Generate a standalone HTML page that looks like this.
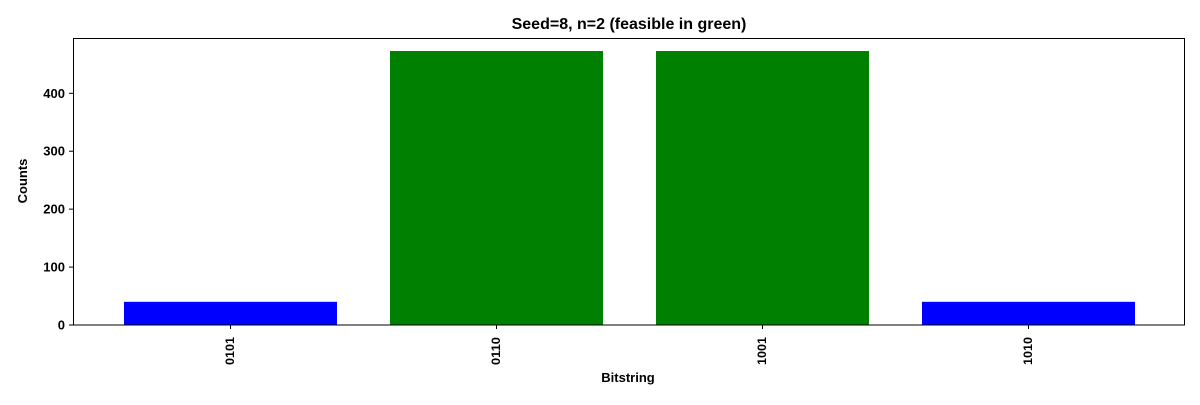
<!DOCTYPE html>
<html><head><meta charset="utf-8"><style>
body{margin:0;background:#fff;}
svg text{font-family:"Liberation Sans","DejaVu Sans",sans-serif;font-weight:bold;}
</style></head><body>
<svg id="chart" width="1200" height="400">
<text x="629" y="29" font-size="16" text-anchor="middle">Seed=8, n=2 (feasible in green)</text>
<text x="628" y="382" font-size="13" text-anchor="middle">Bitstring</text>
<text x="27" y="181" font-size="13" text-anchor="middle" transform="rotate(-90 27 181)">Counts</text>
<g id="bars"></g><g id="yt"></g><g id="xt"></g>
<rect x="73.5" y="38.5" width="1111" height="286.5" fill="none" stroke="#000" stroke-width="1"/>
</svg>
<script>
const categories=["0101","0110","1001","1010"];
const counts=[40,473,473,40];
const colors=["#0000ff","#008000","#008000","#0000ff"];
const yTicks=[0,100,200,300,400];
const NS="http://www.w3.org/2000/svg";
const y0=325,yScale=(325-93.3)/400;
function yPos(v){return y0-v*yScale;}
function xPos(i){return 230.5+i*266;}
const bw=213;
const bars=document.getElementById('bars'),yt=document.getElementById('yt'),xt=document.getElementById('xt');
categories.forEach((c,i)=>{
 const r=document.createElementNS(NS,'rect');
 r.setAttribute('x',xPos(i)-bw/2);r.setAttribute('y',yPos(counts[i]));
 r.setAttribute('width',bw);r.setAttribute('height',y0-yPos(counts[i]));
 r.setAttribute('fill',colors[i]);
 
 
 bars.appendChild(r);
 const l=document.createElementNS(NS,'line');
 l.setAttribute('x1',xPos(i));l.setAttribute('x2',xPos(i));l.setAttribute('y1',325);l.setAttribute('y2',329);l.setAttribute('stroke','#000');
 
 
 xt.appendChild(l);
 const t=document.createElementNS(NS,'text');
 t.setAttribute('font-size','12');t.setAttribute('text-anchor','end');
 t.setAttribute('textLength','28');t.setAttribute('lengthAdjust','spacingAndGlyphs');
 t.setAttribute('transform','translate('+(xPos(i)+3.5)+',337) rotate(-90)');
 t.textContent=c;
 
 
 xt.appendChild(t);
});
yTicks.forEach(v=>{
 const l=document.createElementNS(NS,'line');
 l.setAttribute('x1',69);l.setAttribute('x2',73);l.setAttribute('y1',yPos(v));l.setAttribute('y2',yPos(v));l.setAttribute('stroke','#000');
 
 
 yt.appendChild(l);
 const t=document.createElementNS(NS,'text');
 t.setAttribute('x',65);t.setAttribute('y',yPos(v)+4.5);t.setAttribute('font-size','13');t.setAttribute('text-anchor','end');
 t.textContent=v;
 
 
 yt.appendChild(t);
});
</script>
</body></html>
